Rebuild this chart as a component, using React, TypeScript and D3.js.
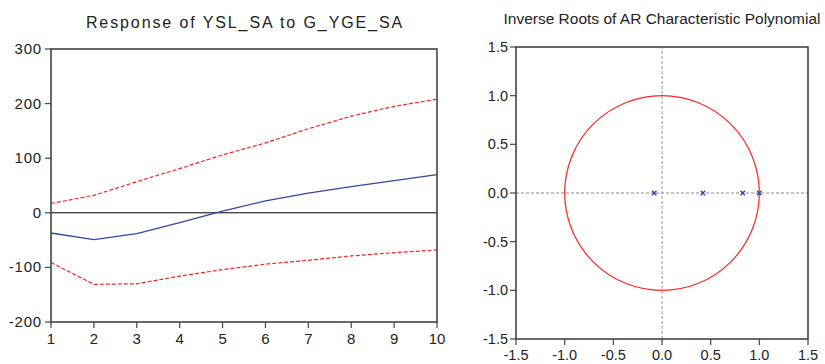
import * as d3 from "d3"

// Impulse response (left panel)
const periods = [1, 2, 3, 4, 5, 6, 7, 8, 9, 10]
const response = [-37, -49, -38, -18, 3, 22, 36, 48, 59, 70]
const upperBand = [17, 32, 57, 81, 106, 128, 154, 177, 195, 208]
const lowerBand = [-91, -131, -130, -116, -104, -94, -87, -79, -73, -68]
const irfTicks = [300, 200, 100, 0, -100, -200]

// AR roots (right panel)
const rootsRe = [-0.08, 0.42, 0.83, 1.0]
const rootsIm = [0, 0, 0, 0]
const rootTicks = [-1.5, -1.0, -0.5, 0.0, 0.5, 1.0, 1.5]

const FONT = "'Liberation Sans', Arial, sans-serif"
const FRAME = "#444"

function IrfPanel() {
  const x = d3.scaleLinear().domain([1, 10]).range([51, 437])
  const y = d3.scaleLinear().domain([-200, 300]).range([322, 49])
  const line = d3.line<number>().x((_, i) => x(periods[i])).y(d => y(d))
  return (
    <g>
      <text x={245} y={28} textAnchor="middle" fontSize={16} letterSpacing={1.9} fill="#222" fontFamily={FONT}>
        Response of YSL_SA to G_YGE_SA
      </text>
      <line x1={x(1)} x2={x(10)} y1={y(0)} y2={y(0)} stroke="#000" strokeWidth={1} />
      <path d={line(upperBand) || ""} fill="none" stroke="#f22" strokeWidth={1.2} strokeDasharray="4,2" />
      <path d={line(lowerBand) || ""} fill="none" stroke="#f22" strokeWidth={1.2} strokeDasharray="4,2" />
      <path d={line(response) || ""} fill="none" stroke="#3347a6" strokeWidth={1.3} />
      <rect x={x(1)} y={y(300)} width={x(10) - x(1)} height={y(-200) - y(300)} fill="none" stroke={FRAME} strokeWidth={1.6} />
      {irfTicks.map(t => (
        <g key={t}>
          <line x1={x(1) - 6} x2={x(1)} y1={y(t)} y2={y(t)} stroke={FRAME} strokeWidth={1.2} />
          <text x={x(1) - 9} y={y(t) + 5} textAnchor="end" fontSize={15} letterSpacing={0.8} fill="#222" fontFamily={FONT}>{t}</text>
        </g>
      ))}
      {periods.map(p => (
        <g key={p}>
          <line x1={x(p)} x2={x(p)} y1={y(-200)} y2={y(-200) + 6} stroke={FRAME} strokeWidth={1.2} />
          <text x={x(p)} y={y(-200) + 22} textAnchor="middle" fontSize={15} fill="#222" fontFamily={FONT}>{p}</text>
        </g>
      ))}
    </g>
  )
}

function RootsPanel() {
  const x = d3.scaleLinear().domain([-1.5, 1.5]).range([516, 808])
  const y = d3.scaleLinear().domain([-1.5, 1.5]).range([339, 47])
  const r = x(1) - x(0)
  const m = 2.2
  return (
    <g>
      <text x={662} y={24} textAnchor="middle" fontSize={15.5} fill="#222" fontFamily={FONT}>
        Inverse Roots of AR Characteristic Polynomial
      </text>
      <line x1={x(-1.5)} x2={x(1.5)} y1={y(0)} y2={y(0)} stroke="#888" strokeWidth={1} strokeDasharray="3,2" />
      <line x1={x(0)} x2={x(0)} y1={y(-1.5)} y2={y(1.5)} stroke="#999" strokeWidth={1} strokeDasharray="3,2" />
      <circle cx={x(0)} cy={y(0)} r={r} fill="none" stroke="#f22" strokeWidth={1.2} />
      {rootsRe.map((re, i) => (
        <g key={i} stroke="#3347a6" strokeWidth={1.4}>
          <line x1={x(re) - m} x2={x(re) + m} y1={y(rootsIm[i]) - m} y2={y(rootsIm[i]) + m} />
          <line x1={x(re) - m} x2={x(re) + m} y1={y(rootsIm[i]) + m} y2={y(rootsIm[i]) - m} />
        </g>
      ))}
      <rect x={x(-1.5)} y={y(1.5)} width={x(1.5) - x(-1.5)} height={y(-1.5) - y(1.5)} fill="none" stroke={FRAME} strokeWidth={1.6} />
      {rootTicks.map(t => (
        <g key={t}>
          <line x1={x(-1.5) - 6} x2={x(-1.5)} y1={y(t)} y2={y(t)} stroke={FRAME} strokeWidth={1.2} />
          <text x={x(-1.5) - 8} y={y(t) + 5} textAnchor="end" fontSize={14.5} fill="#222" fontFamily={FONT}>{t.toFixed(1)}</text>
          <line x1={x(t)} x2={x(t)} y1={y(-1.5)} y2={y(-1.5) + 6} stroke={FRAME} strokeWidth={1.2} />
          <text x={x(t)} y={y(-1.5) + 21} textAnchor="middle" fontSize={14.5} fill="#222" fontFamily={FONT}>{t.toFixed(1)}</text>
        </g>
      ))}
    </g>
  )
}

export default function App() {
  return (
    <svg width={825} height={364} style={{ position: "absolute", left: 0, top: 0, background: "#fff" }}>
      <IrfPanel />
      <RootsPanel />
    </svg>
  )
}
